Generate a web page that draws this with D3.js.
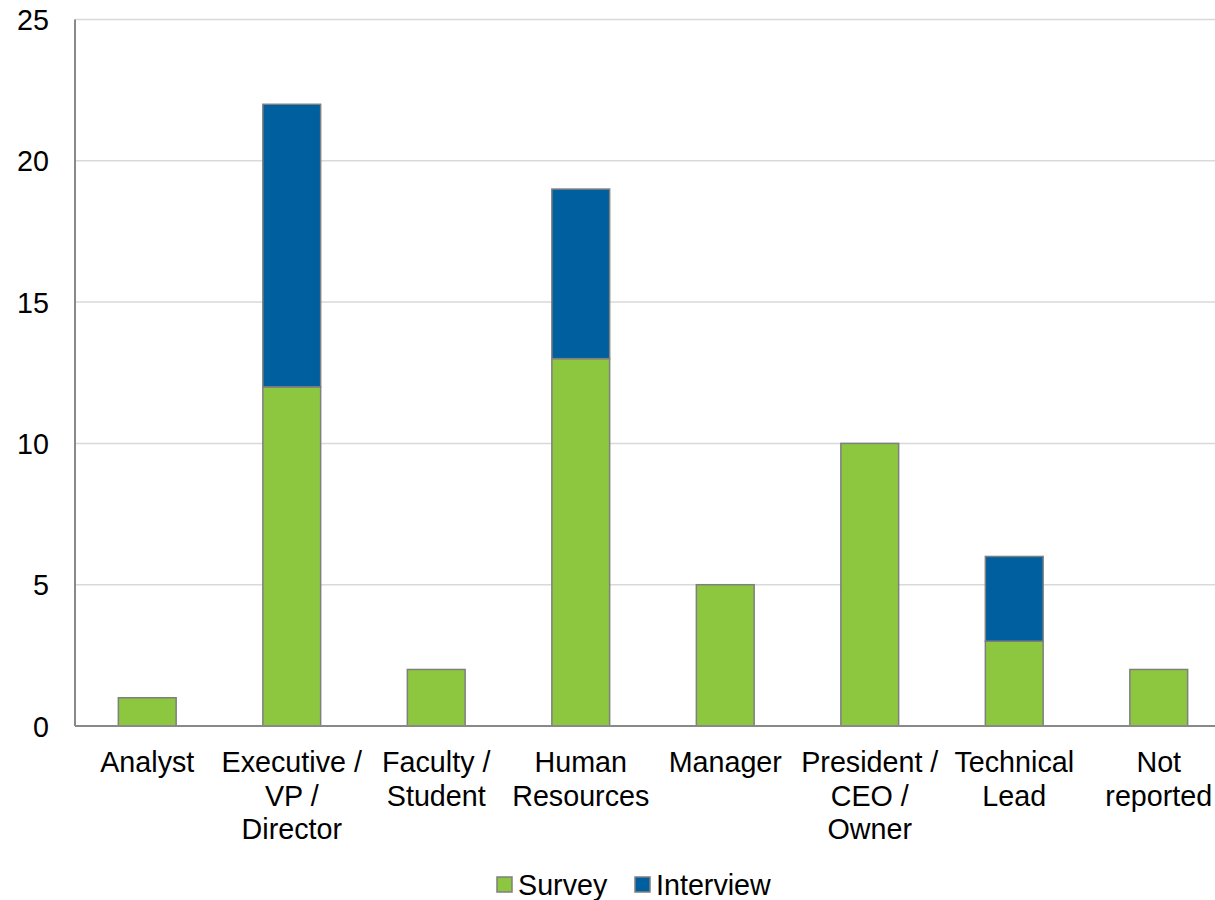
<!DOCTYPE html>
<html><head><meta charset="utf-8">
<script src="https://cdn.jsdelivr.net/npm/d3@7/dist/d3.min.js"></script>
<style>body{margin:0;background:#fff}svg{display:block;font-family:"Liberation Sans",Arial,sans-serif}</style>
</head><body>
<svg id="c" width="1215" height="900"></svg>
<script>
const categories = [["Analyst"],["Executive /","VP /","Director"],["Faculty /","Student"],["Human","Resources"],["Manager"],["President /","CEO /","Owner"],["Technical","Lead"],["Not","reported"]];
const survey = [1,12,2,13,5,10,3,2];
const interview = [0,10,0,6,0,0,3,0];
const yTicks = [0,5,10,15,20,25];
const seriesNames = ["Survey","Interview"];
const colors = ["#8DC63F","#005F9E"];

(function(){
const svg = d3.select("#c");
const fs = 28.7;
const pLeft = 75, pRight = 1231, pTop = 19.5, pBottom = 726;
const keys = categories.map((c,i)=>i);
const x = d3.scaleBand().domain(keys).range([pLeft,pRight]).paddingInner(0.6).paddingOuter(0.3);
const y = d3.scaleLinear().domain([0,25]).range([pBottom, pTop]);

svg.append("g").selectAll("line").data(yTicks.filter(t=>t>0)).join("line")
  .attr("x1",pLeft).attr("x2",1215).attr("y1",d=>y(d)).attr("y2",d=>y(d))
  .attr("stroke","#d9d9d9").attr("stroke-width",1.5);

svg.append("g").selectAll("text").data(yTicks).join("text")
  .attr("x",49).attr("y",d=>y(d)+10.5).attr("text-anchor","end")
  .attr("font-size",fs).attr("fill","#000").text(d=>d);

const rows = keys.map(i=>({i, s:survey[i], v:interview[i]}));
const stack = d3.stack().keys(["s","v"])(rows);
stack.forEach((layer,li)=>{
  svg.append("g").selectAll("rect").data(layer.filter(d=>d[1]-d[0]>0)).join("rect")
    .attr("x",d=>x(d.data.i)).attr("width",x.bandwidth())
    .attr("y",d=>y(d[1])).attr("height",d=>y(d[0])-y(d[1]))
    .attr("fill",colors[li]).attr("stroke","#7f7f7f").attr("stroke-width",1.5);
});

svg.append("line").attr("x1",pLeft).attr("x2",pLeft).attr("y1",pTop).attr("y2",pBottom).attr("stroke","#898989").attr("stroke-width",2);
svg.append("line").attr("x1",pLeft).attr("x2",1215).attr("y1",pBottom).attr("y2",pBottom).attr("stroke","#898989").attr("stroke-width",2);

const xl = svg.append("g").selectAll("text").data(keys).join("text")
  .attr("text-anchor","middle").attr("font-size",fs).attr("fill","#000")
  .attr("transform",d=>`translate(${x(d)+x.bandwidth()/2},772)`);
xl.selectAll("tspan").data(d=>categories[d]).join("tspan")
  .attr("x",0).attr("y",(d,j)=>j*33.5).text(d=>d);

const legX = [497, 635];
seriesNames.forEach((n,i)=>{
  svg.append("rect").attr("x",legX[i]).attr("y",877).attr("width",15).attr("height",15)
    .attr("fill",colors[i]).attr("stroke","#7f7f7f").attr("stroke-width",1.5);
  svg.append("text").attr("x",legX[i]+21).attr("y",894.5).attr("font-size",fs).attr("fill","#000").text(n);
});
})();
</script>
</body></html>
